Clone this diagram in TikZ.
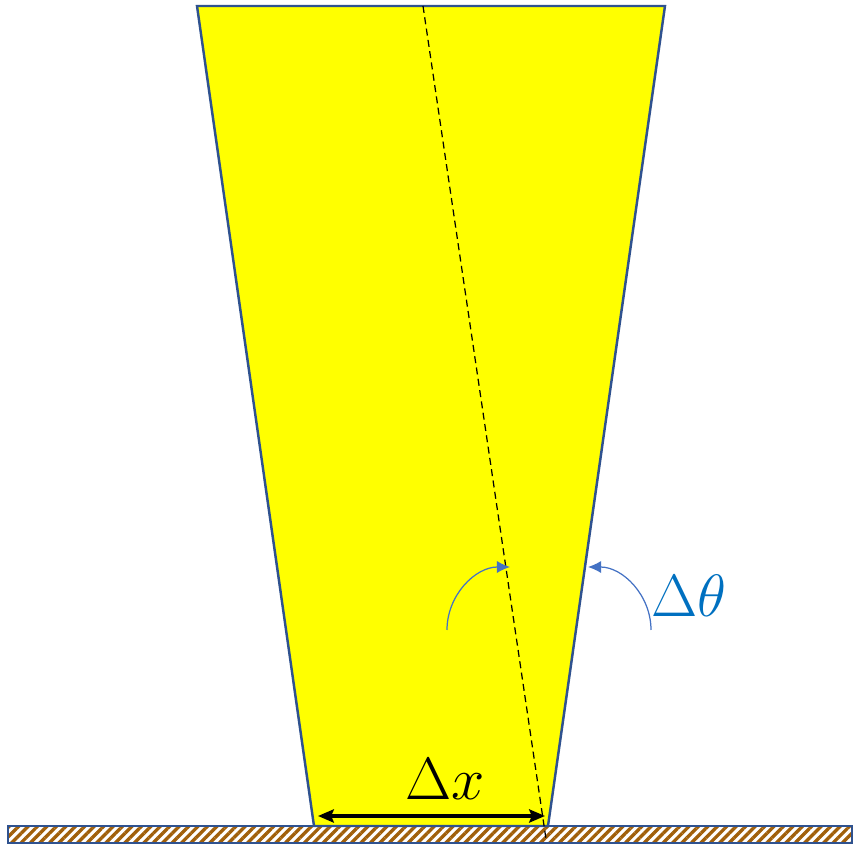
\documentclass[tikz,border=0pt]{standalone}
\usepackage{fix-cm}
\usetikzlibrary{patterns.meta,arrows.meta}
\definecolor{beamyellow}{RGB}{255,255,0}
\definecolor{edgeblue}{RGB}{47,82,143}
\definecolor{arcblue}{RGB}{68,114,196}
\definecolor{labelblue}{RGB}{0,112,192}
\definecolor{hatchbrown}{RGB}{160,95,10}
\tikzset{
  beam/.style={fill=beamyellow,draw=edgeblue,line width=1.4pt,line join=miter},
  turn/.style={draw=arcblue,line width=0.7pt,-{Latex[length=7.5pt,width=7pt]}},
  widthline/.style={line width=1.8pt,{Stealth[length=9pt,width=7.5pt,inset=1.5pt]}-{Stealth[length=9pt,width=7.5pt,inset=1.5pt]}},
  biglabel/.style={font=\fontsize{34}{40}\selectfont}
}
\begin{document}
\begin{tikzpicture}[x=0.02cm,y=0.02cm]
\useasboundingbox (0,0) rectangle (853,845);
% ground strip
\draw[edgeblue,line width=1.4pt,fill=white,pattern={Lines[angle=45,distance=3.8pt,line width=1.9pt]},pattern color=hatchbrown] (8,2) rectangle (852,19);
% beam and its tilted axis
\coordinate (tl) at (197,839); \coordinate (tr) at (665,839);
\coordinate (br) at (548,19); \coordinate (bl) at (314,19);
\draw[beam] (tl) -- (tr) -- (br) -- (bl) -- cycle;
\coordinate (axtop) at (423,839); \coordinate (axbot) at (546,6);
\draw[dashed,line width=0.7pt,dash pattern=on 4pt off 2.5pt] (axtop) -- (axbot);
% spot width
\coordinate (wl) at (318,29); \coordinate (wr) at (545,29);
\draw[widthline] (wl) -- (wr);
\node[biglabel] (dx) at (445,66) {$\Delta x$};
% rotation arcs
\coordinate (a1) at (447,215); \coordinate (a2) at (651,215);
\draw[turn] (a1) arc[start angle=180,end angle=90,radius=1.26cm];
\draw[turn] (a2) arc[start angle=0,end angle=90,radius=1.26cm];
\node[biglabel,text=labelblue] (dtheta) at (689,249) {$\Delta\theta$};
\end{tikzpicture}
\end{document}
